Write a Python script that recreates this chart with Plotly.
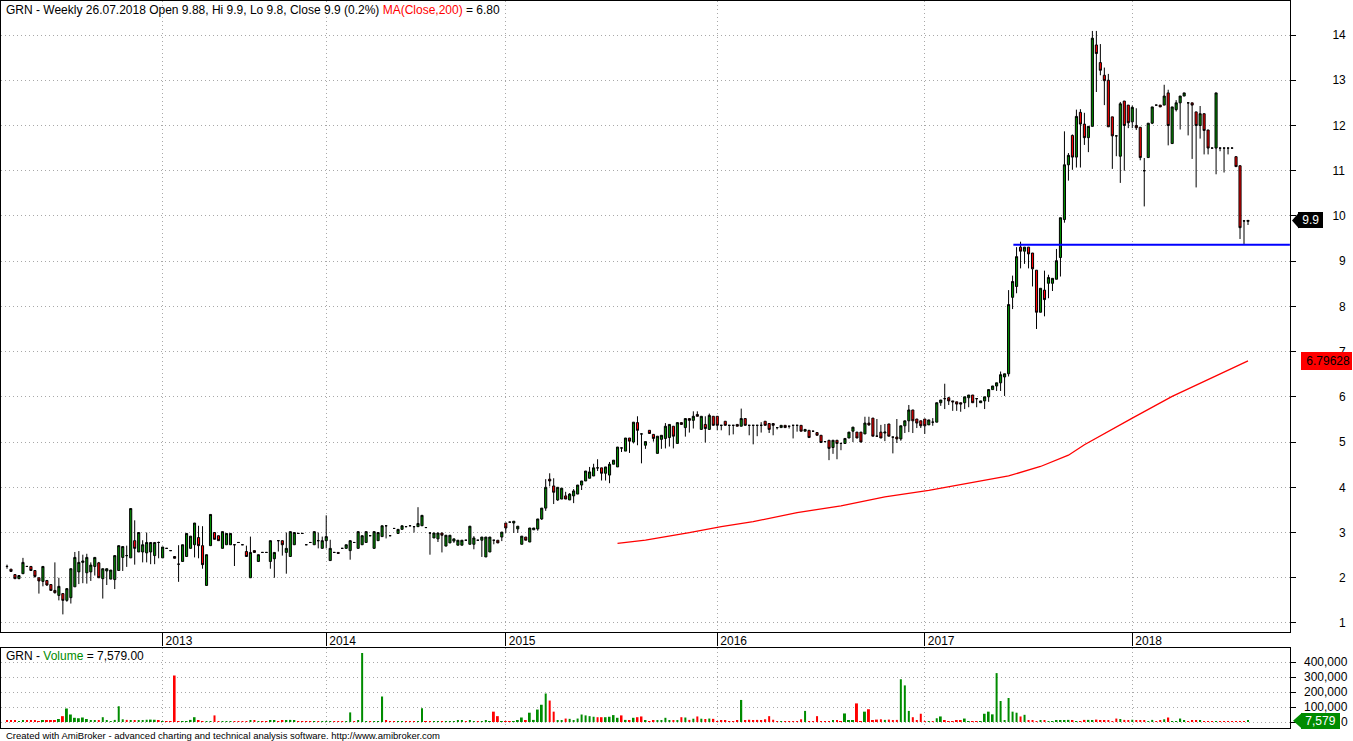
import plotly.graph_objects as go

# ---------------- data (weekly bars) ----------------
opens = [
    2.25, 2.19, 2.07, 1.98, 2.09, 2.25, 2.25, 2.16, 2.00, 1.92,
    1.94, 1.85, 1.72, 1.61, 1.65, 1.50, 1.56, 1.80, 2.13, 2.34,
    2.11, 2.13, 2.25, 2.33, 1.98, 2.15, 1.97, 1.96, 2.16, 2.45,
    2.49, 2.44, 2.82, 2.57, 2.57, 2.55, 2.57, 2.49, 2.78, 2.44,
    2.65, 2.60, 2.47, 2.30, 2.36, 2.47, 2.65, 2.73, 2.89, 2.71,
    1.83, 2.71, 3.00, 2.93, 2.65, 2.73, 2.73, 2.73, 2.78, 2.73,
    2.58, 2.00, 2.60, 2.36, 2.56, 2.56, 2.36, 2.42, 2.82, 2.82,
    2.56, 2.47, 2.73, 2.98, 2.98, 2.73, 2.78, 2.73, 2.82, 2.65,
    2.82, 2.38, 2.56, 2.56, 2.65, 2.65, 2.60, 2.78, 2.65, 2.73,
    2.78, 2.93, 2.65, 2.82, 2.91, 3.15, 2.93, 3.09, 2.98, 3.07,
    3.13, 3.15, 3.13, 3.13, 3.15, 3.11, 2.99, 2.88, 2.86, 2.99,
    2.70, 2.77, 2.81, 2.72, 2.72, 2.83, 2.74, 2.74, 2.83, 2.83,
    2.46, 2.57, 2.83, 2.83, 2.90, 3.21, 3.23, 3.21, 3.08, 2.74,
    2.90, 2.79, 3.06, 3.08, 3.30, 3.54, 4.18, 4.03, 3.72, 3.74,
    3.81, 3.72, 3.81, 3.85, 4.05, 4.14, 4.20, 4.25, 4.43, 4.43,
    4.31, 4.27, 4.51, 4.45, 4.87, 4.80, 5.09, 5.00, 5.43, 5.18,
    4.93, 5.26, 5.17, 4.75, 5.06, 5.08, 5.10, 5.35, 4.97, 5.43,
    5.32, 5.52, 5.48, 5.61, 5.28, 5.39, 5.28, 5.57, 5.57, 5.37,
    5.46, 5.37, 5.37, 5.39, 5.35, 5.52, 5.37, 5.37, 5.37, 5.37,
    5.46, 5.41, 5.41, 5.32, 5.32, 5.37, 5.35, 5.37, 5.37, 5.37,
    5.24, 5.26, 5.24, 5.21, 5.15, 5.01, 5.04, 4.88, 5.04, 4.97,
    4.97, 5.09, 5.24, 5.22, 5.22, 5.18, 5.42, 5.53, 5.13, 5.22,
    5.20, 5.40, 5.11, 5.11, 5.07, 5.36, 5.47, 5.71, 5.51, 5.47,
    5.51, 5.38, 5.44, 5.44, 5.87, 5.96, 5.98, 5.91, 5.89, 5.87,
    5.87, 5.98, 6.04, 5.96, 5.87, 5.91, 6.00, 6.16, 6.24, 6.31,
    6.44, 6.51, 8.20, 8.44, 9.31, 9.22, 9.31, 9.18, 8.80, 7.87,
    8.36, 8.51, 8.51, 8.60, 9.08, 9.92, 11.13, 11.78, 11.30, 12.29,
    12.03, 11.73, 11.98, 13.78, 13.39, 13.11, 13.00, 12.19, 11.77, 11.32,
    12.54, 12.45, 12.08, 12.00, 11.96, 11.00, 11.29, 12.05, 12.45, 12.45,
    12.45, 12.72, 11.60, 12.35, 12.50, 12.65, 12.50, 12.50, 12.30, 12.00,
    12.26, 11.90, 11.50, 11.50, 11.50, 11.50, 11.50, 11.50, 11.31, 11.11,
    9.89, 9.88,
]
highs = [
    2.29, 2.19, 2.08, 2.05, 2.44, 2.25, 2.25, 2.16, 2.00, 2.25,
    1.94, 1.85, 2.34, 2.00, 1.65, 1.76, 2.20, 2.57, 2.59, 2.51,
    2.53, 2.34, 2.45, 2.35, 2.20, 2.20, 2.17, 2.49, 2.71, 2.69,
    2.71, 3.53, 3.27, 3.00, 2.83, 3.00, 2.78, 2.78, 2.80, 2.68,
    2.65, 2.60, 2.47, 2.72, 2.73, 2.98, 2.92, 3.21, 3.15, 3.14,
    2.51, 3.40, 3.00, 2.93, 3.02, 2.98, 2.98, 2.73, 2.78, 2.73,
    2.71, 2.91, 2.60, 2.51, 2.56, 2.56, 2.82, 2.56, 2.82, 2.82,
    3.00, 3.02, 3.00, 2.98, 2.98, 2.73, 2.78, 3.02, 3.00, 2.91,
    3.38, 2.84, 2.56, 2.56, 2.65, 2.73, 2.82, 2.78, 3.02, 2.93,
    3.02, 2.93, 3.02, 3.00, 3.15, 3.15, 2.93, 3.09, 3.07, 3.15,
    3.13, 3.15, 3.13, 3.56, 3.38, 3.11, 2.99, 2.99, 2.99, 2.99,
    2.94, 2.94, 2.86, 2.83, 2.83, 2.83, 3.14, 2.92, 2.83, 2.90,
    2.90, 2.90, 2.83, 2.83, 3.01, 3.21, 3.23, 3.25, 3.14, 2.92,
    2.90, 3.10, 3.10, 3.30, 3.54, 4.18, 4.31, 4.20, 4.00, 3.98,
    3.90, 3.87, 3.96, 4.05, 4.14, 4.36, 4.45, 4.52, 4.62, 4.43,
    4.45, 4.56, 4.60, 4.89, 4.87, 5.09, 5.09, 5.44, 5.57, 5.19,
    5.01, 5.26, 5.17, 5.13, 5.15, 5.42, 5.39, 5.35, 5.43, 5.43,
    5.52, 5.52, 5.68, 5.68, 5.57, 5.57, 5.63, 5.57, 5.57, 5.37,
    5.46, 5.37, 5.37, 5.39, 5.74, 5.52, 5.37, 5.37, 5.37, 5.44,
    5.46, 5.41, 5.41, 5.32, 5.37, 5.37, 5.35, 5.37, 5.37, 5.37,
    5.28, 5.26, 5.24, 5.21, 5.15, 5.01, 5.04, 5.04, 5.04, 4.97,
    5.08, 5.22, 5.33, 5.22, 5.22, 5.56, 5.56, 5.53, 5.51, 5.38,
    5.40, 5.40, 5.11, 5.51, 5.36, 5.47, 5.82, 5.71, 5.51, 5.47,
    5.51, 5.49, 5.53, 5.87, 5.93, 6.29, 6.00, 5.91, 5.89, 5.87,
    6.00, 6.04, 6.04, 5.96, 5.91, 6.00, 6.16, 6.24, 6.31, 6.56,
    6.51, 8.36, 8.68, 9.31, 9.43, 9.31, 9.31, 9.18, 8.80, 8.40,
    8.79, 8.70, 8.62, 9.27, 9.96, 11.87, 11.39, 11.80, 12.35, 12.36,
    12.28, 11.98, 14.09, 14.09, 13.80, 13.28, 13.14, 12.19, 11.77, 12.52,
    12.54, 12.45, 12.44, 12.38, 11.96, 11.28, 12.05, 12.41, 12.45, 12.45,
    12.90, 12.79, 12.41, 12.56, 12.65, 12.72, 12.50, 12.50, 12.30, 12.43,
    12.26, 11.90, 11.50, 12.72, 11.50, 11.50, 11.50, 11.50, 11.31, 11.11,
    9.89, 9.90,
]
lows = [
    2.20, 2.14, 1.98, 1.97, 2.09, 2.25, 2.16, 2.00, 1.65, 1.81,
    1.82, 1.72, 1.65, 1.50, 1.19, 1.47, 1.43, 1.80, 1.86, 1.88,
    1.87, 1.93, 2.05, 2.00, 1.54, 1.84, 1.97, 1.75, 2.16, 2.15,
    2.24, 2.44, 2.29, 2.57, 2.34, 2.34, 2.30, 2.30, 2.43, 2.44,
    2.65, 2.60, 2.43, 1.91, 2.36, 2.47, 2.65, 2.45, 2.43, 2.20,
    1.83, 2.71, 2.85, 2.82, 2.65, 2.73, 2.73, 2.26, 2.78, 2.73,
    2.47, 2.00, 2.56, 2.36, 2.56, 2.56, 2.20, 2.00, 2.58, 2.49,
    2.09, 2.47, 2.73, 2.98, 2.98, 2.73, 2.78, 2.73, 2.65, 2.65,
    2.65, 2.38, 2.56, 2.54, 2.65, 2.65, 2.40, 2.78, 2.65, 2.73,
    2.78, 2.93, 2.65, 2.82, 2.91, 2.87, 2.93, 3.09, 2.98, 3.07,
    3.13, 3.15, 3.00, 3.13, 3.15, 3.11, 2.51, 2.88, 2.79, 2.56,
    2.70, 2.77, 2.77, 2.72, 2.72, 2.83, 2.74, 2.63, 2.83, 2.46,
    2.46, 2.57, 2.74, 2.77, 2.81, 2.99, 3.23, 2.99, 2.99, 2.74,
    2.83, 2.79, 3.06, 3.04, 3.28, 3.48, 4.02, 3.63, 3.70, 3.74,
    3.74, 3.72, 3.65, 3.85, 3.94, 4.14, 4.20, 4.25, 4.36, 4.15,
    4.15, 4.09, 4.51, 4.45, 4.78, 4.80, 4.76, 4.97, 4.93, 4.53,
    4.85, 5.19, 5.01, 4.75, 4.85, 4.86, 4.90, 4.86, 4.97, 5.39,
    5.12, 5.21, 5.30, 5.57, 5.28, 4.99, 5.28, 5.37, 5.26, 5.26,
    5.37, 5.15, 5.17, 5.35, 5.35, 5.37, 5.15, 4.95, 5.13, 5.21,
    5.37, 5.20, 5.15, 5.28, 5.32, 5.32, 5.30, 5.08, 5.23, 5.24,
    5.24, 5.10, 5.24, 5.15, 4.99, 5.01, 4.60, 4.74, 4.62, 4.82,
    4.97, 5.09, 5.00, 5.09, 5.00, 5.18, 5.36, 5.13, 5.13, 5.09,
    5.02, 5.13, 4.75, 4.98, 5.03, 5.20, 5.22, 5.20, 5.31, 5.31,
    5.18, 5.38, 5.36, 5.44, 5.80, 5.73, 5.82, 5.69, 5.69, 5.67,
    5.73, 5.77, 5.87, 5.77, 5.87, 5.73, 5.89, 6.16, 6.13, 6.13,
    6.02, 6.45, 7.94, 8.29, 8.84, 8.94, 8.84, 8.44, 7.50, 7.87,
    7.78, 8.18, 8.34, 8.60, 8.66, 9.85, 10.78, 11.02, 11.07, 11.07,
    11.57, 11.41, 11.98, 12.74, 13.11, 12.45, 11.97, 11.04, 11.32, 10.73,
    11.00, 11.94, 11.94, 11.90, 11.23, 10.21, 11.29, 12.03, 12.45, 12.41,
    12.45, 11.56, 11.60, 12.31, 11.91, 12.65, 11.78, 11.26, 10.63, 11.71,
    11.36, 11.36, 11.50, 10.92, 11.43, 10.96, 11.36, 11.50, 11.09, 9.49,
    9.36, 9.80,
]
closes = [
    2.25, 2.14, 1.98, 2.05, 2.34, 2.25, 2.16, 2.03, 1.93, 2.25,
    1.84, 1.72, 1.67, 1.81, 1.50, 1.76, 2.20, 2.45, 2.34, 2.37,
    2.45, 2.28, 2.45, 2.00, 2.20, 2.20, 2.17, 2.49, 2.71, 2.69,
    2.49, 3.53, 2.65, 3.00, 2.73, 2.78, 2.78, 2.78, 2.78, 2.68,
    2.65, 2.60, 2.43, 2.30, 2.73, 2.98, 2.92, 3.21, 2.71, 2.29,
    2.51, 3.40, 2.85, 2.82, 3.02, 2.98, 2.98, 2.73, 2.78, 2.73,
    2.47, 2.56, 2.56, 2.51, 2.56, 2.56, 2.82, 2.56, 2.82, 2.73,
    2.65, 3.02, 3.00, 2.98, 2.98, 2.73, 2.78, 3.02, 2.82, 2.82,
    2.91, 2.65, 2.56, 2.54, 2.65, 2.73, 2.82, 2.78, 3.02, 2.93,
    3.02, 2.93, 3.02, 3.00, 3.15, 3.15, 2.93, 3.09, 3.07, 3.15,
    3.13, 3.15, 3.13, 3.20, 3.38, 3.11, 2.99, 2.99, 2.99, 2.94,
    2.94, 2.94, 2.86, 2.83, 2.83, 2.83, 3.14, 2.88, 2.83, 2.90,
    2.90, 2.90, 2.83, 2.77, 3.01, 3.10, 3.23, 3.25, 3.14, 2.92,
    2.83, 3.10, 3.10, 3.30, 3.54, 4.00, 4.14, 3.89, 4.00, 3.98,
    3.74, 3.85, 3.92, 4.05, 4.14, 4.36, 4.34, 4.43, 4.43, 4.31,
    4.45, 4.51, 4.60, 4.89, 4.87, 5.09, 5.02, 5.44, 5.26, 5.18,
    5.01, 5.19, 5.08, 5.13, 5.15, 5.35, 5.39, 5.13, 5.43, 5.39,
    5.52, 5.48, 5.57, 5.57, 5.57, 5.30, 5.59, 5.37, 5.37, 5.37,
    5.37, 5.37, 5.37, 5.35, 5.52, 5.37, 5.37, 5.37, 5.37, 5.37,
    5.37, 5.28, 5.37, 5.32, 5.37, 5.32, 5.35, 5.37, 5.37, 5.24,
    5.28, 5.10, 5.24, 5.15, 4.99, 5.01, 4.86, 5.04, 4.97, 4.97,
    5.08, 5.22, 5.33, 5.09, 5.00, 5.42, 5.38, 5.13, 5.13, 5.09,
    5.22, 5.13, 5.11, 5.07, 5.36, 5.47, 5.71, 5.47, 5.42, 5.36,
    5.36, 5.49, 5.44, 5.87, 5.93, 5.96, 5.91, 5.89, 5.84, 5.84,
    6.00, 6.04, 5.87, 5.96, 5.91, 6.00, 6.16, 6.24, 6.31, 6.49,
    6.51, 8.04, 8.55, 9.10, 9.22, 9.31, 9.16, 8.83, 7.87, 8.40,
    8.15, 8.64, 8.62, 9.01, 9.96, 11.13, 11.34, 11.30, 12.20, 12.03,
    11.73, 11.98, 13.93, 13.59, 13.22, 12.99, 11.97, 11.77, 11.77, 12.48,
    12.00, 12.06, 12.40, 11.95, 11.29, 11.00, 12.05, 12.41, 12.45, 12.41,
    12.65, 12.00, 12.41, 12.50, 12.65, 12.72, 12.50, 12.45, 12.00, 12.26,
    11.89, 11.50, 11.50, 12.72, 11.50, 11.50, 11.50, 11.50, 11.09, 9.74,
    9.89, 9.90,
]
volumes = [
    14000, 11000, 9000, 6000, 12000, 7000, 10000, 9000, 6000, 8000,
    7000, 9000, 12000, 20000, 39000, 90000, 50000, 28000, 25000, 30000,
    20000, 12000, 10000, 8000, 32000, 12000, 6000, 14000, 105000, 18000,
    14000, 10000, 8000, 12000, 9000, 15000, 16000, 15000, 8000, 4000,
    3000, 3000, 310000, 4000, 2000, 3000, 14000, 32000, 8000, 5000,
    4000, 5000, 44000, 4000, 5000, 5000, 4000, 3000, 2000, 2000,
    3000, 8000, 7000, 2000, 2000, 3000, 8000, 9000, 6000, 10000,
    12000, 14000, 10000, 2000, 2000, 2000, 3000, 6000, 5000, 4000,
    6000, 3000, 2000, 2000, 2000, 3000, 64000, 6000, 8000, 460000,
    4000, 4000, 3000, 3000, 170000, 12000, 4000, 3000, 2000, 5000,
    2000, 2000, 3000, 4000, 92000, 5000, 3000, 4000, 3000, 5000,
    4000, 3000, 6000, 8000, 7000, 6000, 9000, 5000, 4000, 6000,
    8000, 5000, 69000, 39000, 4000, 3000, 2000, 5000, 8000, 30000,
    8000, 62000, 14000, 83000, 115000, 190000, 143000, 69000, 12000, 12000,
    23000, 21000, 12000, 23000, 50000, 44000, 39000, 35000, 32000, 32000,
    32000, 35000, 46000, 28000, 44000, 14000, 12000, 28000, 32000, 37000,
    9000, 5000, 12000, 11000, 13000, 28000, 10000, 9000, 11000, 32000,
    30000, 14000, 22000, 37000, 22000, 20000, 23000, 21000, 5000, 12000,
    8000, 6000, 4000, 10000, 147000, 12000, 15000, 10000, 14000, 12000,
    18000, 39000, 15000, 6000, 4000, 3000, 2000, 5000, 3000, 18000,
    74000, 5000, 4000, 39000, 5000, 4000, 3000, 12000, 14000, 6000,
    57000, 8000, 9000, 124000, 5000, 69000, 85000, 12000, 16000, 18000,
    14000, 16000, 12000, 14000, 285000, 244000, 74000, 32000, 12000, 55000,
    6000, 5000, 4000, 25000, 37000, 9000, 6000, 5000, 8000, 9000,
    23000, 6000, 5000, 3000, 4000, 55000, 69000, 51000, 326000, 140000,
    9000, 160000, 69000, 62000, 37000, 48000, 10000, 8000, 6000, 7000,
    8000, 6000, 5000, 12000, 10000, 11000, 14000, 9000, 6000, 5000,
    14000, 14000, 12000, 16000, 13000, 10000, 8000, 6000, 23000, 20000,
    14000, 12000, 15000, 12000, 11000, 7000, 5000, 14000, 6000, 8000,
    18000, 30000, 4000, 6000, 23000, 8000, 6000, 10000, 7000, 9000,
    3000, 2000, 4000, 6000, 3000, 4000, 2000, 3000, 2000, 4000,
    3000, 7579,
]

year_bar_index = [39, 80, 125, 178, 230, 282]
year_labels = ["2013", "2014", "2015", "2016", "2017", "2018"]

ma_bar_index = [153, 160, 171, 179, 187, 198, 209, 220, 231, 240,
                251, 259, 266, 270, 276, 282, 292, 303, 311]
ma_values = [2.76, 2.83, 3.00, 3.13, 3.24, 3.44, 3.59, 3.79, 3.93, 4.07,
             4.25, 4.46, 4.71, 4.94, 5.24, 5.53, 6.01, 6.46, 6.796]

support_bar_index = [252.2, 321.5]
support_level = [9.36, 9.36]

price_ticks = [1, 2, 3, 4, 5, 6, 7, 8, 9, 10, 11, 12, 13, 14]
volume_ticks = [0, 100000, 200000, 300000, 400000]
volume_tick_labels = ["0", "100,000", "200,000", "300,000", "400,000"]

last_close_label = "9.9"
ma_last_label = "6.79628"
last_volume_label = "7,579"

assert len(opens) == len(highs) == len(lows) == len(closes) == len(volumes), (
    len(opens), len(highs), len(lows), len(closes), len(volumes))

# ---------------- geometry ----------------
W, H = 1353, 741
ML, MR, MT, MB = 1, 63, 1, 12
PW, PH = W - ML - MR, H - MT - MB

def fx(px):
    return (px - ML) / PW

def fy(py):
    return (H - MB - py) / PH

PX_PER_UNIT = 45.23          # price scale: 14 at y=35
def price_to_py(p):
    return 35 + (14 - p) * PX_PER_UNIT

price_top = 14 + (35 - MT) / PX_PER_UNIT
price_bot = 14 - (632 - 35) / PX_PER_UNIT
vol_top = (722 - 648) / 15 * 100000
vol_bot = (722 - 728) / 15 * 100000

n = len(opens)
bar_index = list(range(n))
step = (1248 - 7) / (n - 1)
x_min = -(7 - ML) / step
x_max = x_min + PW / step

GREEN = "#008c00"
RED = "#ff0000"
GRID = "#a8a8a8"
FONT = "Liberation Sans, Arial, sans-serif"

vol_colors = [GREEN if c > o else RED for o, c in zip(opens, closes)]

fig = go.Figure()
fig.add_trace(go.Candlestick(
    x=bar_index, open=opens, high=highs, low=lows, close=closes,
    increasing=dict(line=dict(color="black", width=1), fillcolor=GREEN),
    decreasing=dict(line=dict(color="black", width=1), fillcolor=RED),
    whiskerwidth=0, xaxis="x", yaxis="y", hoverinfo="skip", showlegend=False))
fig.add_trace(go.Scatter(
    x=ma_bar_index, y=ma_values, mode="lines",
    line=dict(color="#ff0000", width=1.3), xaxis="x", yaxis="y",
    hoverinfo="skip", showlegend=False))
fig.add_trace(go.Scatter(
    x=support_bar_index, y=support_level, mode="lines",
    line=dict(color="#0000ff", width=2), xaxis="x", yaxis="y",
    hoverinfo="skip", showlegend=False, cliponaxis=True))
fig.add_trace(go.Bar(
    x=bar_index, y=volumes, marker=dict(color=vol_colors, line=dict(width=0)),
    width=0.5, xaxis="x2", yaxis="y2", hoverinfo="skip", showlegend=False))

price_ticktext = [("\u2007" + str(v)) if v < 10 else str(v) for v in price_ticks]

common_grid = dict(showgrid=True, gridcolor=GRID, gridwidth=1, griddash="1px,3px",
                   showline=True, linecolor="black", linewidth=1, mirror=True,
                   zeroline=False)

fig.update_layout(
    width=W, height=H,
    margin=dict(l=ML, r=MR, t=MT, b=MB, pad=0),
    paper_bgcolor="white", plot_bgcolor="white",
    font=dict(family=FONT, size=12, color="black"),
    showlegend=False, hovermode=False, boxgap=0.25,
    xaxis=dict(domain=[0, 1], anchor="y", range=[x_min, x_max],
               tickmode="array", tickvals=year_bar_index, ticktext=year_labels,
               ticks="outside", ticklen=13, tickcolor="black", tickwidth=1,
               ticklabelposition="outside right", ticklabelshift=2,
               ticklabelstandoff=-2,
               tickfont=dict(family=FONT, size=12, color="black"),
               rangeslider=dict(visible=False), **common_grid),
    yaxis=dict(domain=[fy(632), 1], anchor="x", side="right",
               range=[price_bot, price_top], tickmode="array",
               tickvals=price_ticks, ticktext=price_ticktext,
               ticks="outside", ticklen=5, tickcolor="black",
               ticklabelstandoff=34,
               tickfont=dict(family=FONT, size=12, color="black"),
               **common_grid),
    xaxis2=dict(domain=[0, 1], anchor="y2", matches="x", range=[x_min, x_max],
                tickmode="array", tickvals=year_bar_index, showticklabels=False,
                ticks="", **common_grid),
    yaxis2=dict(domain=[fy(728), fy(648)], anchor="x2", side="right",
                range=[vol_bot, vol_top], tickmode="array", tickvals=volume_ticks,
                showticklabels=False, ticks="outside", ticklen=5, tickcolor="black",
                **common_grid),
)

annotations = []
annotations.append(dict(
    xref="paper", yref="paper", x=fx(4), y=fy(10), xanchor="left", yanchor="middle",
    showarrow=False, font=dict(family=FONT, size=12, color="black"),
    text="GRN - Weekly 26.07.2018 Open 9.88, Hi 9.9, Lo 9.8, Close 9.9 (0.2%) "
         "<span style='color:#ff0000'>MA(Close,200)</span> = 6.80"))
annotations.append(dict(
    xref="paper", yref="paper", x=fx(4), y=fy(656), xanchor="left", yanchor="middle",
    showarrow=False, font=dict(family=FONT, size=12, color="black"),
    text="GRN - <span style='color:#008c00'>Volume</span> = 7,579.00"))
annotations.append(dict(
    xref="paper", yref="paper", x=fx(4), y=fy(735), xanchor="left", yanchor="middle",
    showarrow=False, font=dict(family=FONT, size=9.5, color="black"),
    text="Created with AmiBroker - advanced charting and technical analysis software. "
         "http://www.amibroker.com"))

for v, lab in zip(volume_ticks, volume_tick_labels):
    annotations.append(dict(
        xref="paper", yref="paper", x=fx(1350), y=fy(722 - v / 100000 * 15),
        xanchor="right", yanchor="middle", showarrow=False,
        font=dict(family=FONT, size=12, color="black"), text=lab))

# value tags on the right edge
py_close = price_to_py(closes[-1])
py_ma = price_to_py(ma_values[-1])
py_vol = 722 - volumes[-1] / 100000 * 15

annotations.append(dict(
    xref="paper", yref="paper", x=fx(1298), y=fy(py_close), xanchor="left",
    yanchor="middle", showarrow=False, bgcolor="black", borderwidth=0, borderpad=1,
    font=dict(family=FONT, size=12, color="white"),
    text="\u00a0" + last_close_label + "\u00a0"))
annotations.append(dict(
    xref="paper", yref="paper", x=fx(1301), y=fy(py_ma), xanchor="left",
    yanchor="middle", showarrow=False, bgcolor="#ff0000", borderwidth=0, borderpad=2,
    font=dict(family=FONT, size=12, color="black"),
    text="\u00a0" + ma_last_label))
annotations.append(dict(
    xref="paper", yref="paper", x=fx(1301), y=fy(py_vol), xanchor="left",
    yanchor="middle", showarrow=False, bgcolor=GREEN, borderwidth=0, borderpad=1,
    font=dict(family=FONT, size=12, color="white"),
    text="\u00a0" + last_volume_label + "\u00a0"))

shapes = []
def tag_arrow(tip_px, base_px, py, color):
    return dict(type="path", xref="paper", yref="paper", layer="above",
                path=f"M {fx(tip_px)} {fy(py)} L {fx(base_px)} {fy(py - 8)} "
                     f"L {fx(base_px)} {fy(py + 8)} Z",
                fillcolor=color, line=dict(width=0))
shapes.append(tag_arrow(1292, 1299, py_close, "black"))
shapes.append(tag_arrow(1293, 1302, py_vol, GREEN))

fig.update_layout(annotations=annotations, shapes=shapes)

fig.write_html(
    "out.html",
    config={"displayModeBar": False},
    post_script="document.body.style.margin='0';document.body.style.overflow='hidden';")
